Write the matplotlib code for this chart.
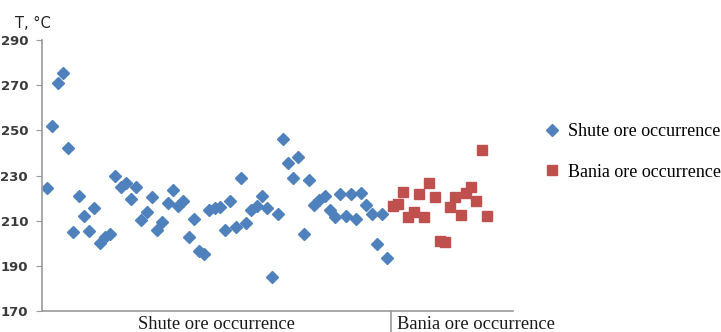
import matplotlib
matplotlib.use("Agg")
import matplotlib.pyplot as plt
from matplotlib.transforms import blended_transform_factory, offset_copy

# ---------- data ---------- #
shute_T = [224.5, 252, 271, 275.6, 242, 205, 221, 212, 205.6, 215.5,
           200, 202.6, 204, 229.6, 224.7, 226.5, 219.6, 224.8, 210.5, 214,
           220.3, 206, 209.3, 217.7, 223.4, 216.6, 218.8, 202.6, 210.9, 196.5,
           195.3, 214.6, 215.5, 216.2, 205.8, 218.8, 207.3, 229, 209, 214.8,
           216.4, 221.1, 215.6, 185, 213.1, 246, 235.4, 229, 238.3, 203.9,
           227.9, 217, 219, 220.8, 214.9, 211.7, 221.8, 211.9, 221.9, 210.9,
           222.2, 216.9, 213, 199.8, 213, 193.3]
bania_T = [216.4, 217.6, 222.9, 211.6, 213.9, 221.9, 211.6, 226.7, 220.5, 200.8,
           200.4, 216.1, 220.5, 212.5, 222.1, 225.1, 218.7, 241.1, 211.9]
groups = ["Shute ore occurrence", "Bania ore occurrence"]
yticks = [170, 190, 210, 230, 250, 270, 290]

shute_x = list(range(1, len(shute_T) + 1))
bania_x = list(range(len(shute_T) + 1, len(shute_T) + len(bania_T) + 1))
split = len(shute_T) + 0.7

# ---------- figure ---------- #
fig = plt.figure(figsize=(7.21, 3.32), dpi=100)
ax = fig.add_axes([42/721, 1 - 311/332, (513 - 42)/721, (311 - 40)/332])

ax.plot(shute_x, shute_T, ls="none", marker="D", ms=6.5, color="#4F81BD",
        mec="#4F81BD", label=groups[0])
ax.plot(bania_x, bania_T, ls="none", marker="s", ms=7.5, color="#C0504D",
        mec="#C0504D", label=groups[1])

ax.set_xlim(0, 90)
ax.set_ylim(170, 290)
ax.set_yticks(yticks)
ax.set_xticks([])
for s in ["top", "right"]:
    ax.spines[s].set_visible(False)
for s in ["left", "bottom"]:
    ax.spines[s].set_color("#9a9a9a")
    ax.spines[s].set_linewidth(1.2)
ax.tick_params(axis="y", length=4, color="#9a9a9a", labelsize=9.5,
               labelcolor="#3a3a3a", pad=6)
for lb in ax.get_yticklabels():
    lb.set_fontweight("semibold")

# group separator + category labels under the axis
trans = blended_transform_factory(ax.transData, ax.transAxes)
ax.plot([split, split], [0, -0.09], transform=trans, color="#9a9a9a",
        lw=1.2, clip_on=False)
lab_tr = offset_copy(trans, fig=fig, y=-5, units="dots")
ax.text(split / 2, 0, groups[0], transform=lab_tr, ha="center", va="top",
        family="Liberation Serif", fontsize=13.3, color="#1a1a1a")
lab_tr2 = offset_copy(trans, fig=fig, x=6, y=-5, units="dots")
ax.text(split, 0, groups[1], transform=lab_tr2, ha="left", va="top",
        family="Liberation Serif", fontsize=13.3, color="#1a1a1a")

fig.text(15/721, 1 - 23/332, "T, °C", ha="left", va="center", fontsize=10.5,
         color="#222222")

fig.legend(loc="center left", bbox_to_anchor=(543/721, 1 - 152/332),
           frameon=False, handlelength=1.0, handletextpad=0.4,
           labelspacing=1.3, borderpad=0, borderaxespad=0,
           prop={"family": "Liberation Serif", "size": 13})

fig.savefig("out.png", dpi=100)
